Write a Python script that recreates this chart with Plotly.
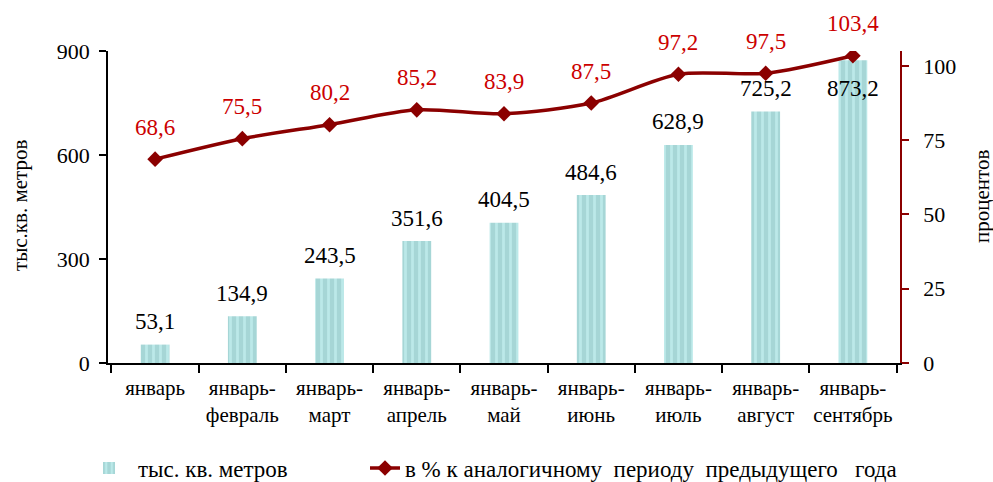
import plotly.graph_objects as go

categories = ["январь", "январь-<br>февраль", "январь-<br>март", "январь-<br>апрель", "январь-<br>май",
              "январь-<br>июнь", "январь-<br>июль", "январь-<br>август", "январь-<br>сентябрь"]
area = [53.1, 134.9, 243.5, 351.6, 404.5, 484.6, 628.9, 725.2, 873.2]
percent = [68.6, 75.5, 80.2, 85.2, 83.9, 87.5, 97.2, 97.5, 103.4]
left_ticks = [0, 300, 600, 900]
right_ticks = [0, 25, 50, 75, 100]

def fmt(v):
    return f"{v:.1f}".replace(".", ",")

FONT = "Liberation Serif"
RED_LINE = "#8b0000"
RED_TEXT = "#cc0000"
NB = "\u00a0"

# plot area in page px: x 108..900, y 51..363
PX0, PX1, PY0, PY1 = 108, 900, 51, 363
PW, PH = PX1 - PX0, PY1 - PY0

def px(x):
    return (x - PX0) / PW

def py(y):
    return (PY1 - y) / PH

fig = go.Figure()
fig.add_trace(go.Bar(
    x=categories, y=area, name="тыс. кв. метров",
    width=0.33,
    marker=dict(color="#a6d6d6", line=dict(width=0),
                pattern=dict(shape="|", fgcolor="#d0fcfc", size=7, solidity=0.4)),
    yaxis="y", legend="legend",
))
fig.add_trace(go.Scatter(
    x=categories, y=percent,
    name="в % к" + NB + "аналогичному" + NB * 2 + "периоду" + NB * 2 + "предыдущего" + NB * 3 + "года",
    mode="lines+markers", line=dict(color=RED_LINE, width=3.5, shape="spline", smoothing=0.8),
    marker=dict(symbol="diamond", size=12, color=RED_LINE),
    yaxis="y2", legend="legend2",
))

ann = []
for i, (c, v) in enumerate(zip(categories, area)):
    shift = -28 if i == len(area) - 1 else 23
    ann.append(dict(x=c, y=v, xref="x", yref="y", text=fmt(v), showarrow=False,
                    yshift=shift, font=dict(family=FONT, size=23, color="black")))
for c, v in zip(categories, percent):
    ann.append(dict(x=c, y=v, xref="x", yref="y2", text=fmt(v), showarrow=False,
                    yshift=32, font=dict(family=FONT, size=23, color=RED_TEXT)))
ann.append(dict(x=px(20), y=py(205), xref="paper", yref="paper", xanchor="center", yanchor="middle",
                text="тыс.кв. метров", textangle=-90, showarrow=False,
                font=dict(family=FONT, size=21, color="black")))
ann.append(dict(x=px(982), y=py(197), xref="paper", yref="paper",
                xanchor="center", yanchor="middle", text="процентов", textangle=-90,
                showarrow=False, font=dict(family=FONT, size=21, color="black")))

W, H = 993, 482
fig.update_layout(
    width=W, height=H,
    margin=dict(l=PX0, r=W - PX1, t=PY0, b=H - PY1, autoexpand=False),
    paper_bgcolor="white", plot_bgcolor="white",
    font=dict(family=FONT, size=21, color="black"),
    bargap=0.67,
    showlegend=True,
    legend=dict(orientation="h", x=px(80), y=py(468), xanchor="left", yanchor="middle",
                itemwidth=48, font=dict(family=FONT, size=23, color="black"),
                bgcolor="rgba(0,0,0,0)"),
    legend2=dict(orientation="h", x=px(365), y=py(468), xanchor="left", yanchor="middle",
                 font=dict(family=FONT, size=23, color="black"), bgcolor="rgba(0,0,0,0)"),
    xaxis=dict(showline=True, linecolor="black", linewidth=1.5, ticks="outside",
               tickson="boundaries", ticklen=8, tickcolor="black", tickwidth=1.5, tickangle=0,
               ticklabelstandoff=5, tickfont=dict(size=21), showgrid=False, automargin=False),
    yaxis=dict(range=[0, 900], tickvals=left_ticks, showline=True, linecolor="black",
               linewidth=1.5, ticks="outside", ticklen=7, tickcolor="black", tickwidth=1.5,
               ticklabelstandoff=5, showgrid=False, zeroline=False, tickfont=dict(size=22),
               automargin=False),
    yaxis2=dict(range=[0, 105], tickvals=right_ticks, overlaying="y", side="right",
                showline=True, linecolor=RED_LINE, linewidth=1.5, ticks="outside", ticklen=7,
                tickcolor=RED_LINE, tickwidth=1.5, ticklabelstandoff=10, showgrid=False, zeroline=False,
                tickfont=dict(size=22, color="black"), automargin=False),
    yaxis3=dict(range=[0, 900], tickvals=left_ticks, overlaying="y", side="left",
                showline=False, ticks="inside", ticklen=7, tickcolor="black", tickwidth=1.5,
                showticklabels=False, showgrid=False, zeroline=False, automargin=False),
    yaxis4=dict(range=[0, 105], tickvals=right_ticks, overlaying="y", side="right",
                showline=False, ticks="inside", ticklen=7, tickcolor=RED_LINE, tickwidth=1.5,
                showticklabels=False, showgrid=False, zeroline=False, automargin=False),
    annotations=ann,
)

fig.write_html("out.html", config={"displayModeBar": False},
               post_script="document.body.style.margin='0';document.body.style.overflow='hidden';")
